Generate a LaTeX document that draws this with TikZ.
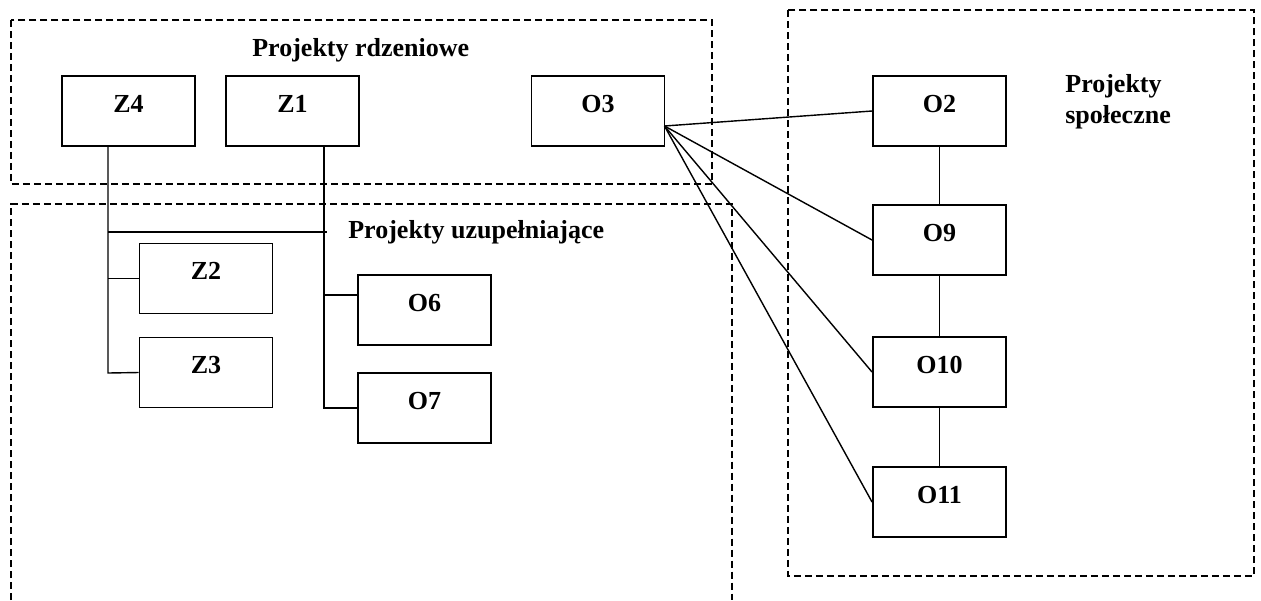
\documentclass[tikz,border=0pt]{standalone}
\usepackage{fontspec}
\setmainfont{Liberation Serif}
\usepackage{tikz}

\begin{document}
\begin{tikzpicture}[x=0.02cm, y=-0.02cm,
  projbox/.style={draw, line width=1.1pt, inner sep=0pt, minimum width=2.66cm,
    text height=0.72cm, text depth=0.68cm, font=\fontsize{14.8}{17}\selectfont\bfseries},
  grouparea/.style={line width=0.8pt, dash pattern=on 0.14cm off 0.08cm},
  grouptitle/.style={inner sep=0pt, font=\fontsize{14.8}{17.6}\selectfont\bfseries},
  link/.style={line width=0.8pt}]
  \useasboundingbox (0,0) rectangle (1261,600);

  % group areas
  \draw[grouparea] (11,20) rectangle (712,184);
  \draw[grouparea] (11,600) -- (11,204) -- (732,204) -- (732,600);
  \draw[grouparea] (788,10) rectangle (1254,576);

  \node[grouptitle, anchor=base west] (rdzen) at (252,56) {Projekty rdzeniowe};
  \node[grouptitle, anchor=base west] (uzup) at (348,238) {Projekty uzupełniające};
  \node[grouptitle, anchor=base west, align=left] (spol) at (1065,123) {Projekty\\społeczne};

  % projects
  \node[projbox] (Z4) at (128.5,111) {Z4};
  \node[projbox] (Z1) at (292.5,111) {Z1};
  \node[projbox] (O3) at (598,111) {O3};
  \node[projbox] (Z2) at (206,278.5) {Z2};
  \node[projbox] (Z3) at (206,372.5) {Z3};
  \node[projbox] (O6) at (424.5,310) {O6};
  \node[projbox] (O7) at (424.5,408) {O7};
  \node[projbox] (O2) at (939.5,111) {O2};
  \node[projbox] (O9) at (939.5,240) {O9};
  \node[projbox] (O10) at (939.5,372) {O10};
  \node[projbox] (O11) at (939.5,502) {O11};

  \coordinate (z4foot) at (108,373);
  \coordinate (z1foot) at (324,408);
  \coordinate (cross) at (327,232);
  \coordinate (fan) at (664.5,126);

  \draw[link] (Z4.south -| z4foot) -- (z4foot) -- (Z3.west);
  \draw[link] (z4foot |- Z2.west) -- (Z2.west);
  \draw[link] (z4foot |- cross) -- (cross);
  \draw[link] (Z1.south -| z1foot) -- (z1foot) -- (O7.west);
  \draw[link] ([yshift=0.3cm]O6.west) -- ([yshift=0.3cm]O6.west -| z1foot);

  \foreach \t in {O2,O9,O10,O11}
    \draw[link] (fan) -- (\t.west);
  \foreach \a/\b in {O2/O9,O9/O10,O10/O11}
    \draw[link] (\a.south) -- (\b.north);
\end{tikzpicture}
\end{document}
